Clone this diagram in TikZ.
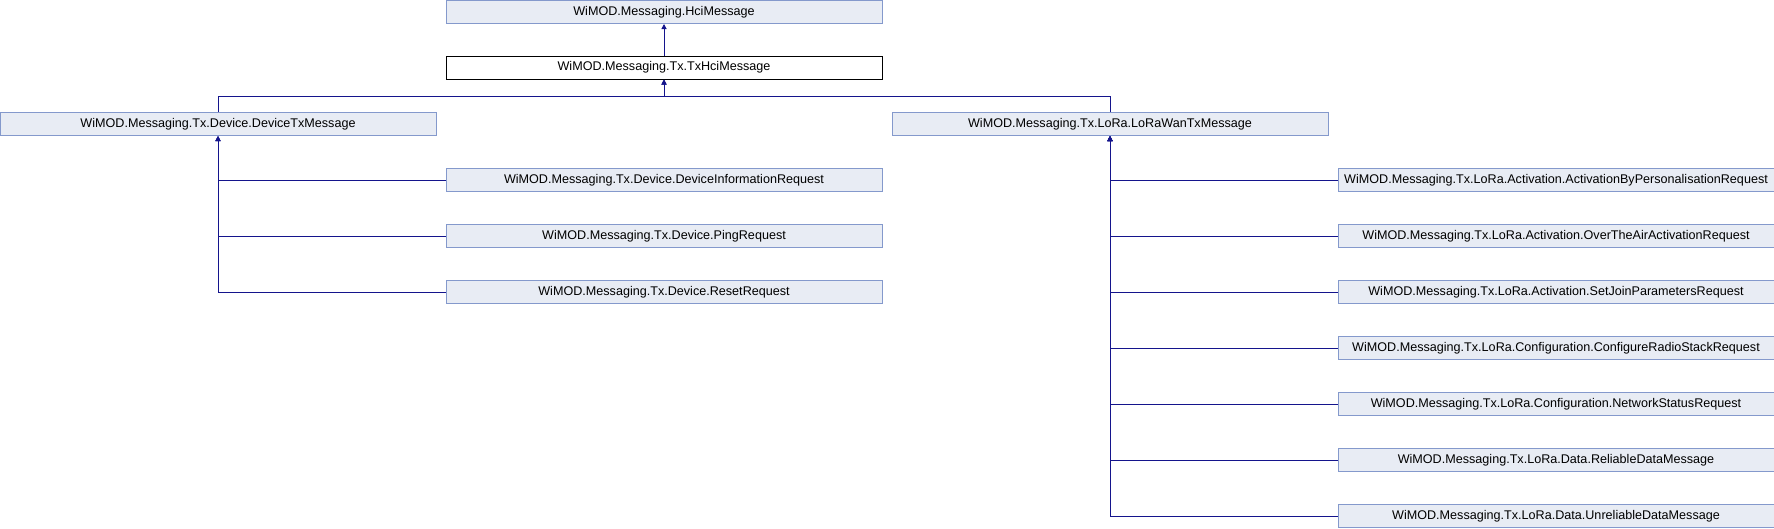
\documentclass[tikz,border=0pt]{standalone}
\usepackage{fontspec}
\setmainfont{Liberation Sans}
\usepackage{tikz}
\usetikzlibrary{arrows.meta,positioning}
\definecolor{edgeblue}{RGB}{20,20,140}
\definecolor{boxfill}{RGB}{232,236,244}
\definecolor{boxline}{RGB}{132,153,204}
\tikzset{
    cls/.style={
    rectangle,draw=boxline,fill=boxfill,line width=1pt,minimum width=436pt,minimum height=23pt,inner sep=0pt,font=\fontsize{12.6}{14}\selectfont
    },
    curcls/.style={
    rectangle,draw=black,fill=white,line width=1pt,minimum width=436pt,minimum height=23pt,inner sep=0pt,font=\fontsize{12.6}{14}\selectfont
    },
    inherit/.style={
    draw=edgeblue,line width=1pt,-{Triangle[length=5pt,width=5pt]}
    },
}
\begin{document}
\begin{tikzpicture}[x=1pt,y=-1pt]
   \useasboundingbox (0,0) rectangle (1774,528);

   %base classes
   \node[cls] (hci) at (664,12) {WiMOD.Messaging.HciMessage};
   \node[curcls] (tx) at (664,67.5) {WiMOD.Messaging.Tx.TxHciMessage};
   \coordinate (bus) at (664,96);

   %device messages
   \node[cls] (dev) at (218,124) {WiMOD.Messaging.Tx.Device.DeviceTxMessage};
   \node[cls] (devinfo) at (664,180) {WiMOD.Messaging.Tx.Device.DeviceInformationRequest};
   \node[cls] (ping) at (664,236) {WiMOD.Messaging.Tx.Device.PingRequest};
   \node[cls] (reset) at (664,292) {WiMOD.Messaging.Tx.Device.ResetRequest};

   %lora messages
   \node[cls] (lora) at (1110,124) {WiMOD.Messaging.Tx.LoRa.LoRaWanTxMessage};
   \node[cls] (abp) at (1556,180) {WiMOD.Messaging.Tx.LoRa.Activation.ActivationByPersonalisationRequest};
   \node[cls] (otaa) at (1556,236) {WiMOD.Messaging.Tx.LoRa.Activation.OverTheAirActivationRequest};
   \node[cls] (join) at (1556,292) {WiMOD.Messaging.Tx.LoRa.Activation.SetJoinParametersRequest};
   \node[cls] (radio) at (1556,348) {WiMOD.Messaging.Tx.LoRa.Configuration.ConfigureRadioStackRequest};
   \node[cls] (netstat) at (1556,404) {WiMOD.Messaging.Tx.LoRa.Configuration.NetworkStatusRequest};
   \node[cls] (reliable) at (1556,460) {WiMOD.Messaging.Tx.LoRa.Data.ReliableDataMessage};
   \node[cls] (unreliable) at (1556,516) {WiMOD.Messaging.Tx.LoRa.Data.UnreliableDataMessage};

   \draw[inherit] (tx) -- (hci);
   \draw[inherit] (dev.north) |- (bus) -- (tx.south);
   \draw[inherit] (lora.north) |- (bus) -- (tx.south);

   %device children
   \foreach \c in {devinfo,ping,reset}
     \draw[inherit] (\c.west) -| (dev.south);

   %lora children
   \foreach \c in {abp,otaa,join,radio,netstat,reliable,unreliable}
     \draw[inherit] (\c.west) -| (lora.south);
\end{tikzpicture}
\end{document}
